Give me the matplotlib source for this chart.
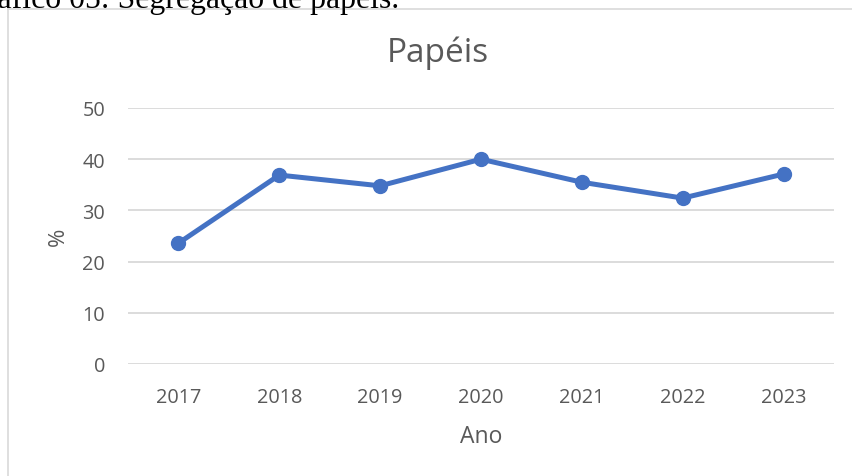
import matplotlib
matplotlib.use("Agg")
import matplotlib.pyplot as plt
from matplotlib.lines import Line2D

# data
anos = ["2017", "2018", "2019", "2020", "2021", "2022", "2023"]
valores = [23.6, 36.9, 34.8, 40.0, 35.5, 32.4, 37.1]
y_ticks = [0, 10, 20, 30, 40, 50]

cinza_txt = "#595959"
cinza_grade = "#d9d9d9"
azul = "#4472C4"

plt.rcParams["font.family"] = ["Open Sans", "DejaVu Sans"]

W, H = 852, 477
fig = plt.figure(figsize=(W / 100, H / 100), dpi=100)


def fx(px):
    return px / W


def fy(py):
    return 1 - py / H


# chart frame (Excel chart area border, partially visible)
fig.add_artist(Line2D([fx(8), fx(8)], [0, fy(10)],
                      transform=fig.transFigure, color=cinza_grade, lw=1.2))
fig.add_artist(Line2D([fx(8), 1], [fy(10), fy(10)],
                      transform=fig.transFigure, color=cinza_grade, lw=1.2))

# caption cut by the page crop
fig.text(fx(-36), fy(8), "Gráfico 05: Segregação de papéis.",
         family="Liberation Serif", fontsize=22.9, color="black",
         ha="left", va="baseline")

ax = fig.add_axes([fx(128), fy(365), 706 / W, 256 / H])
x = range(len(anos))
ax.plot(x, valores, color=azul, lw=3.6, marker="o", markersize=10,
        solid_capstyle="round", zorder=3, clip_on=False)

ax.set_xlim(-0.5, len(anos) - 0.5)
ax.set_ylim(0, 50)
ax.set_yticks(y_ticks)
ax.set_xticks(list(x))
ax.set_xticklabels(anos)
ax.grid(axis="y", color=cinza_grade, lw=1.3)
ax.set_axisbelow(True)
for s in ax.spines.values():
    s.set_visible(False)
ax.tick_params(length=0, colors=cinza_txt, labelsize=14.3)
ax.tick_params(axis="y", pad=16.5)
ax.tick_params(axis="x", pad=16.5)

fig.text(fx(438), fy(62), "Papéis", fontsize=24, color=cinza_txt,
         ha="center", va="baseline")
fig.text(fx(481), fy(443), "Ano", fontsize=16.5, color=cinza_txt,
         ha="center", va="baseline")
fig.text(fx(58), fy(237), "%", fontsize=16, color=cinza_txt,
         ha="center", va="center", rotation=90)

fig.savefig("out.png", dpi=100)
